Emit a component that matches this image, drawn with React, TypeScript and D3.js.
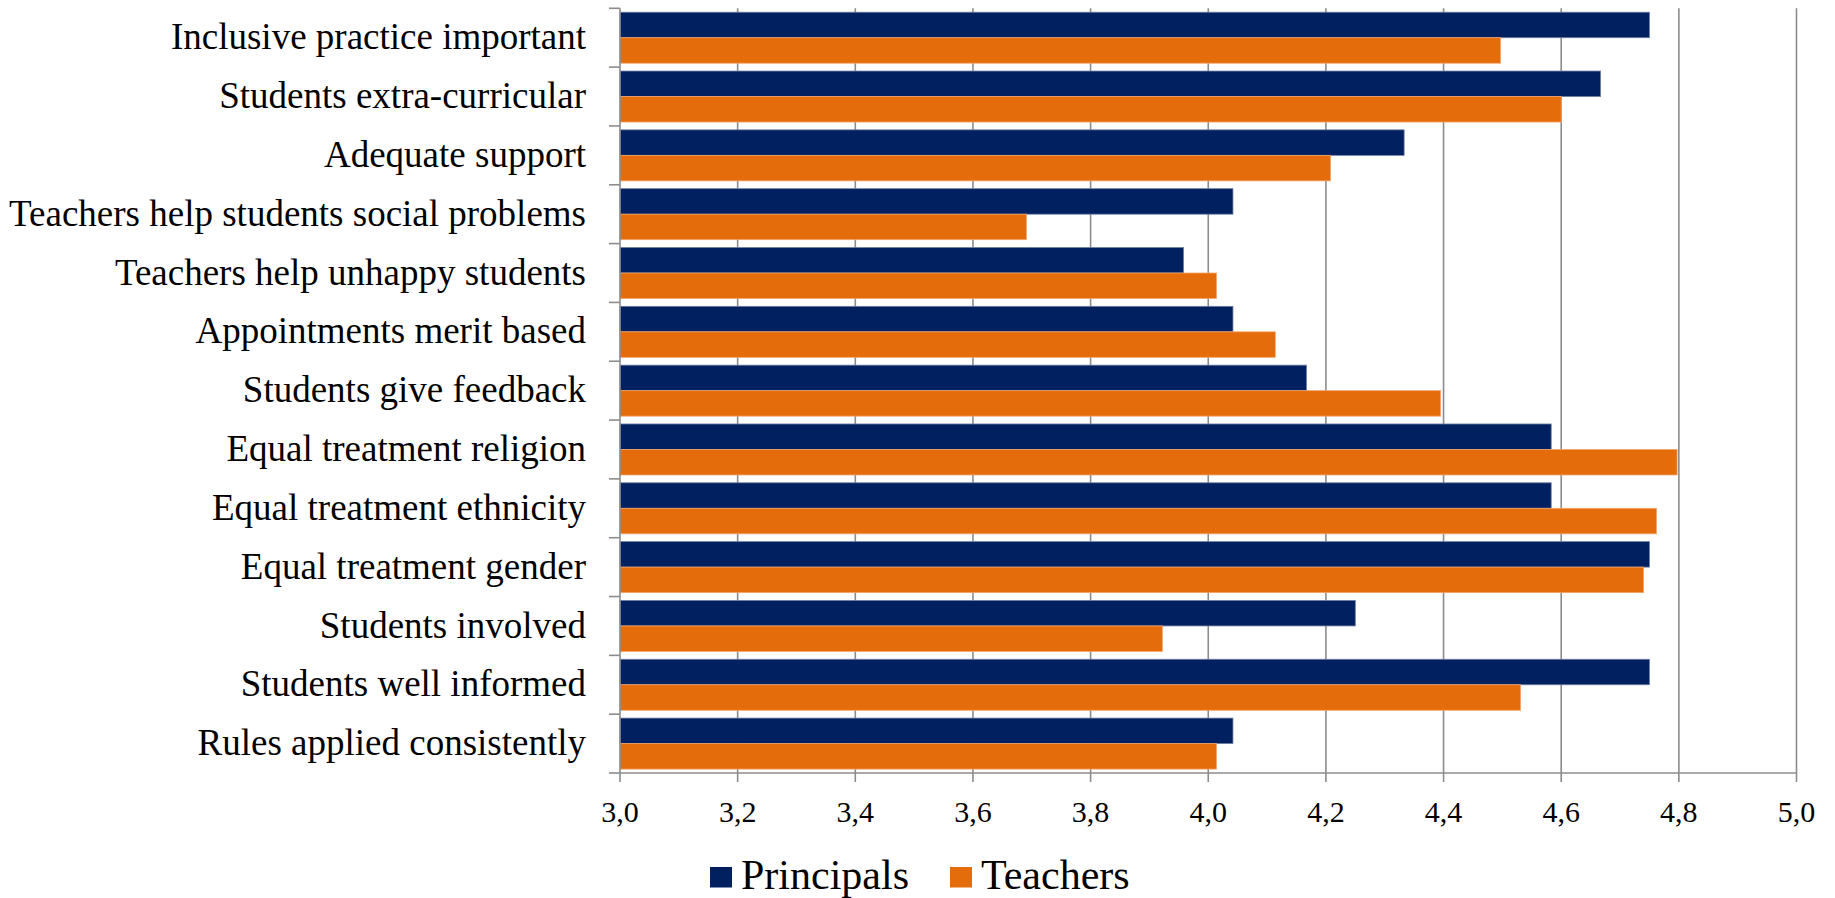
import React from "react";
import * as d3 from "d3";

const categories = [
  "Inclusive practice important",
  "Students extra-curricular",
  "Adequate support",
  "Teachers help students social problems",
  "Teachers help unhappy students",
  "Appointments merit based",
  "Students give feedback",
  "Equal treatment religion",
  "Equal treatment ethnicity",
  "Equal treatment gender",
  "Students involved",
  "Students well informed",
  "Rules applied consistently",
];
const principals = [4.75, 4.667, 4.333, 4.042, 3.958, 4.042, 4.167, 4.583, 4.583, 4.75, 4.25, 4.75, 4.042];
const teachers = [4.497, 4.6, 4.208, 3.691, 4.014, 4.114, 4.395, 4.797, 4.762, 4.74, 3.922, 4.531, 4.014];
const seriesNames = ["Principals", "Teachers"];
const xTicks = [3.0, 3.2, 3.4, 3.6, 3.8, 4.0, 4.2, 4.4, 4.6, 4.8, 5.0];

const colors = ["#002060", "#E46C0A"];
const strokes = ["#6f7fa3", "#f3a56a"];

export default function App() {
  const W = 1835, H = 898;
  const left = 620, right = 1796.5, top = 8.3, bottom = 773;
  const x = d3.scaleLinear().domain([3, 5]).range([left, right]);
  const y = d3.scaleBand<string>().domain(categories).range([top, bottom]).paddingInner(0.133).paddingOuter(0.0665);
  const ySub = d3.scaleBand<string>().domain(seriesNames).range([0, y.bandwidth()]);
  const step = y.step();
  const boundaries = d3.range(categories.length + 1).map((i) => top + i * step);
  const data = [principals, teachers];
  const font = "'Liberation Serif', 'Times New Roman', serif";
  const fmt = (v: number) => v.toFixed(1).replace(".", ",");

  return (
    <svg width={W} height={H} style={{ position: "absolute", left: 0, top: 0, background: "#fff" }}>
      {/* gridlines */}
      {xTicks.slice(1).map((t) => (
        <line key={"g" + t} x1={x(t)} x2={x(t)} y1={top} y2={bottom} stroke="#8c8c8c" strokeWidth={1.6} />
      ))}
      {/* bars */}
      {categories.map((c, i) =>
        seriesNames.map((s, j) => (
          <rect
            key={c + s}
            x={x(3)}
            y={(y(c) as number) + (ySub(s) as number)}
            width={x(data[j][i]) - x(3)}
            height={ySub.bandwidth()}
            fill={colors[j]}
            stroke={strokes[j]}
            strokeWidth={0.8}
          />
        ))
      )}
      {/* left axis */}
      <line x1={left} x2={left} y1={top} y2={bottom} stroke="#8c8c8c" strokeWidth={1.6} />
      {boundaries.map((b, i) => (
        <line key={"lt" + i} x1={left - 11} x2={left} y1={b} y2={b} stroke="#8c8c8c" strokeWidth={1.6} />
      ))}
      {/* bottom axis */}
      <line x1={left} x2={right} y1={bottom} y2={bottom} stroke="#8c8c8c" strokeWidth={1.6} />
      {xTicks.map((t) => (
        <line key={"bt" + t} x1={x(t)} x2={x(t)} y1={bottom} y2={bottom + 9} stroke="#8c8c8c" strokeWidth={1.6} />
      ))}
      {xTicks.map((t) => (
        <text key={"tl" + t} x={x(t)} y={821.5} textAnchor="middle" fontFamily={font} fontSize={30} fill="#000">
          {fmt(t)}
        </text>
      ))}
      {/* category labels */}
      {categories.map((c) => (
        <text
          key={"cl" + c}
          x={586}
          y={(y(c) as number) + y.bandwidth() / 2 + 11.6}
          textAnchor="end"
          fontFamily={font}
          fontSize={37}
          fill="#000"
        >
          {c}
        </text>
      ))}
      {/* legend */}
      <g>
        <rect x={710} y={867} width={22} height={20.5} fill={colors[0]} />
        <text x={741} y={889} fontFamily={font} fontSize={42} fill="#000">{seriesNames[0]}</text>
        <rect x={950} y={867} width={22} height={20.5} fill={colors[1]} />
        <text x={981} y={889} fontFamily={font} fontSize={42} fill="#000">{seriesNames[1]}</text>
      </g>
    </svg>
  );
}
